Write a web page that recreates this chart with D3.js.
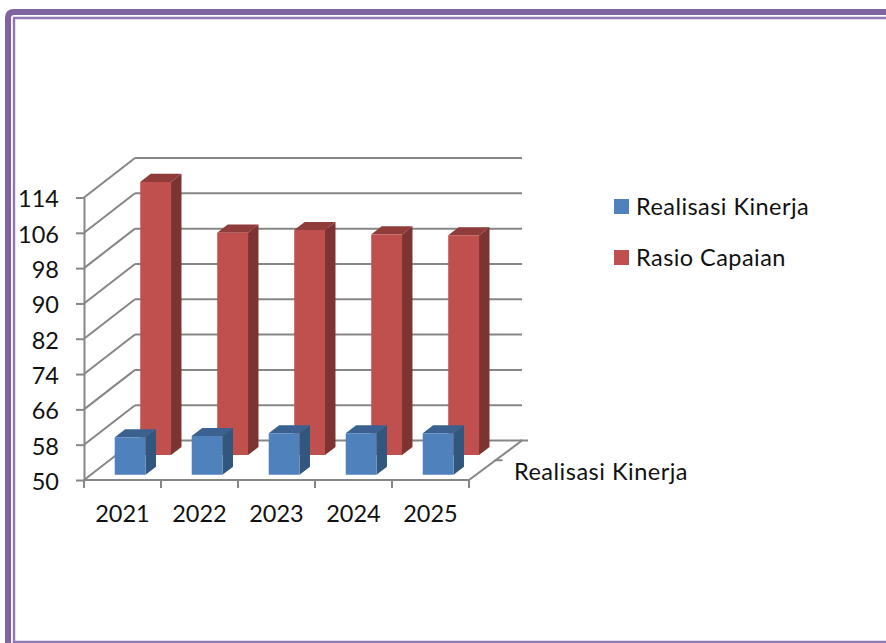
<!DOCTYPE html>
<html>
<head>
<meta charset="utf-8">
<script src="https://cdn.jsdelivr.net/npm/d3@7"></script>
<style>
html, body { margin: 0; padding: 0; background: #fff; overflow: hidden; }
text { font-family: Lato, "Open Sans", sans-serif; fill: #111; }
</style>
</head>
<body>
<div id="chart"></div>
<script>
//chart data
var years = ["2021", "2022", "2023", "2024", "2025"];
var realisasi = [58.5, 58.8, 59.4, 59.4, 59.4];
var rasio = [111.9, 100.4, 101.0, 100.0, 99.8];
var yTicks = [50, 58, 66, 74, 82, 90, 98, 106, 114];
var seriesNames = ["Realisasi Kinerja", "Rasio Capaian"];
var seriesLabel = "Realisasi Kinerja";

var width = 886, height = 643;
var grey = "#868686";
var fontSize = "23.5px";

//the fake 3d: depth 0 is the front of the floor, depth 1 the back wall
var depthX = 51, depthY = -39.5;
var barShift = 1;
function px(x, d) { return x + depthX * d; }
function py(y, d) { return y + depthY * d; }

var x = d3.scaleBand().domain(years).range([84, 469]).paddingInner(0.6).paddingOuter(0.3);
var y = d3.scaleLinear().domain([50, 114]).range([480, 197.5]);

var series = [
	{name: seriesNames[1], values: rasio, d0: 0.63, d1: 0.835, front: "#c0504d", side: "#7c3331", top: "#8f3c3a"},
	{name: seriesNames[0], values: realisasi, d0: 0.13, d1: 0.335, front: "#4f81bd", side: "#32577f", top: "#3a6190"}
];

var svg = d3.select("#chart").append("svg")
.attr("width", width)
.attr("height", height)
.style("display", "block");

//page border, open on the right
svg.append("path")
.attr("d", "M895,12 H14 Q8,12 8,18 V650")
.attr("fill", "none")
.attr("stroke", "#8064a2")
.attr("stroke-width", 6);
svg.append("path")
.attr("d", "M895,18 H14 V642 H895")
.attr("fill", "none")
.attr("stroke", "#9278b4")
.attr("stroke-width", 2.4);

var plot = svg.append("g");

//back wall gridlines and the side wall diagonals
plot.selectAll(".grid")
.data(yTicks)
.enter().append("line")
.attr("class", "grid")
.attr("x1", px(84, 1))
.attr("x2", px(469, 1) + 2)
.attr("y1", function(d) { return py(y(d), 1); })
.attr("y2", function(d) { return py(y(d), 1); })
.attr("stroke", grey)
.attr("stroke-width", 2);

plot.selectAll(".diag")
.data(yTicks)
.enter().append("line")
.attr("class", "diag")
.attr("x1", px(84, 0))
.attr("x2", px(84, 1))
.attr("y1", function(d) { return y(d); })
.attr("y2", function(d) { return py(y(d), 1); })
.attr("stroke", grey)
.attr("stroke-width", 2);

//floor edge on the right with the series ticks
plot.append("line")
.attr("x1", px(469, 0)).attr("y1", y(50))
.attr("x2", px(469, 1) + 2).attr("y2", py(y(50), 1))
.attr("stroke", grey).attr("stroke-width", 2);
[0.5, 1].forEach(function(d) {
	plot.append("line")
	.attr("x1", px(469, d)).attr("y1", py(y(50), d))
	.attr("x2", px(469, d) + 8).attr("y2", py(y(50), d))
	.attr("stroke", grey).attr("stroke-width", 2);
});

//bars, back series first so the front one covers it
series.forEach(function(s) {
	var bars = plot.selectAll(null)
	.data(s.values.map(function(v, i) { return {year: years[i], value: v}; }))
	.enter().append("g");

	function corners(d, dep) {
		var xl = x(d.year) + barShift, xr = xl + x.bandwidth();
		return {
			tl: [px(xl, dep), py(y(d.value), dep)],
			tr: [px(xr, dep), py(y(d.value), dep)],
			bl: [px(xl, dep), py(y(50), dep)],
			br: [px(xr, dep), py(y(50), dep)]
		};
	}
	function poly(pts) { return pts.map(function(p) { return p.join(","); }).join(" "); }

	bars.append("polygon")
	.attr("fill", s.side)
	.attr("points", function(d) {
		var a = corners(d, s.d0), b = corners(d, s.d1);
		return poly([a.tr, b.tr, b.br, a.br]);
	});
	bars.append("polygon")
	.attr("fill", s.top)
	.attr("points", function(d) {
		var a = corners(d, s.d0), b = corners(d, s.d1);
		return poly([a.tl, b.tl, b.tr, a.tr]);
	});
	bars.append("polygon")
	.attr("fill", s.front)
	.attr("points", function(d) {
		var a = corners(d, s.d0);
		return poly([a.tl, a.tr, a.br, a.bl]);
	});
});

//value axis
var yAxis = svg.append("g")
.attr("transform", "translate(84,0)")
.call(d3.axisLeft(y).tickValues(yTicks).tickSize(8).tickPadding(17).tickSizeOuter(0));
yAxis.select(".domain").attr("stroke", grey).attr("stroke-width", 2);
yAxis.selectAll(".tick line").attr("stroke", grey).attr("stroke-width", 2);
yAxis.selectAll(".tick text")
.attr("dy", "0.55em")
.attr("y", -3.5)
.style("font-size", fontSize)
.attr("text-anchor", "end");

//category axis, labels from the axis, ticks on the band edges
var xAxis = svg.append("g")
.attr("transform", "translate(0,480)")
.call(d3.axisBottom(x).tickSize(0).tickPadding(25).tickSizeOuter(0));
xAxis.select(".domain").remove();
xAxis.selectAll(".tick text").style("font-size", fontSize);

svg.append("line")
.attr("x1", 84).attr("x2", 469)
.attr("y1", 480).attr("y2", 480)
.attr("stroke", grey).attr("stroke-width", 2);
svg.selectAll(".xtick")
.data(d3.range(years.length + 1))
.enter().append("line")
.attr("class", "xtick")
.attr("x1", function(i) { return x.range()[0] + i * x.step(); })
.attr("x2", function(i) { return x.range()[0] + i * x.step(); })
.attr("y1", 480)
.attr("y2", 488)
.attr("stroke", grey)
.attr("stroke-width", 2);

//depth axis label
svg.append("text")
.attr("x", 514)
.attr("y", 480)
.style("font-size", fontSize)
.style("letter-spacing", "0.5px")
.text(seriesLabel);

//legend
var legend = svg.selectAll(".legend")
.data(series.slice().reverse())
.enter().append("g")
.attr("class", "legend")
.attr("transform", function(d, i) { return "translate(614," + (199 + i * 51) + ")"; });
legend.append("rect")
.attr("width", 15)
.attr("height", 15)
.attr("fill", function(d) { return d.front; });
legend.append("text")
.attr("x", 22)
.attr("y", 15.5)
.style("font-size", fontSize)
.style("letter-spacing", "0.45px")
.text(function(d) { return d.name; });
</script>
</body>
</html>
